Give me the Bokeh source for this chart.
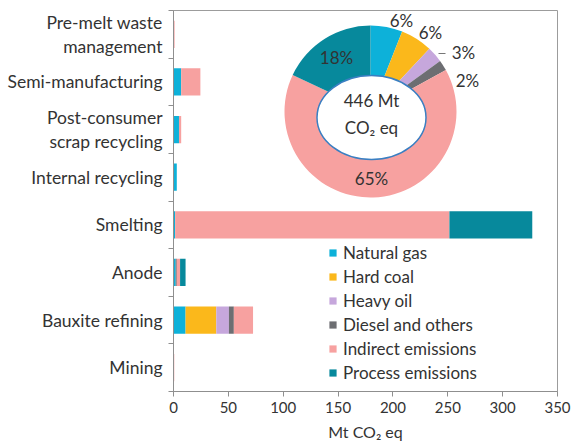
import math
from bokeh.plotting import figure
from bokeh.models import Range1d, FixedTicker, ColumnDataSource, Legend, LegendItem
from bokeh.embed import file_html
from bokeh.resources import INLINE
from bokeh.core.properties import value

# ---------------- data ----------------
categories = ["Pre-melt waste\nmanagement", "Semi-manufacturing", "Post-consumer\nscrap recycling",
              "Internal recycling", "Smelting", "Anode", "Bauxite refining", "Mining"]
natural_gas = [0, 7, 5, 3, 1.5, 2, 11, 0]
hard_coal = [0, 0, 0, 0, 0, 0, 28, 0]
heavy_oil = [0, 0, 0, 0, 0, 0, 11.5, 0]
diesel_others = [0, 0, 0, 0, 0, 1, 4.5, 0]
indirect_emissions = [1, 17.5, 2, 0, 250, 3, 17.5, 0.7]
process_emissions = [0, 0, 0, 0, 75.5, 5, 0, 0]

series_names = ["Natural gas", "Hard coal", "Heavy oil", "Diesel and others",
                "Indirect emissions", "Process emissions"]
pie_percent = [6, 6, 3, 2, 65, 18]
total_emissions = 446
x_ticks = [0, 50, 100, 150, 200, 250, 300, 350]

# ---------------- style ----------------
colors = ["#0db1d9", "#fbb81b", "#c6a7dc", "#6d6e72", "#f7a1a0", "#07899c"]
FONT = "Lato"
TXT = "#333333"
AX = "#8f8f8f"

n = len(categories)
ypos = [n - 0.5 - i for i in range(n)]
keys = ["ng", "coal", "oil", "diesel", "indirect", "process"]
src = ColumnDataSource(dict(y=ypos, ng=natural_gas, coal=hard_coal, oil=heavy_oil,
                            diesel=diesel_others, indirect=indirect_emissions,
                            process=process_emissions))

FW, FH = 384, 381
p = figure(frame_width=FW, frame_height=FH, x_range=Range1d(0, 350), y_range=Range1d(0, n),
           output_backend="svg", toolbar_location=None,
           min_border_left=173, min_border_right=15, min_border_top=10, min_border_bottom=54)
p.grid.visible = False
p.outline_line_color = "#9c9c9c"
p.outline_line_width = 1

rends = p.hbar_stack(keys, y="y", height=0.57, fill_color=colors, line_color=None, source=src)

# x axis
xa = p.xaxis[0]
xa.ticker = FixedTicker(ticks=x_ticks)
xa.axis_line_color = AX
xa.major_tick_line_color = AX
xa.major_tick_in = 0
xa.major_tick_out = 5
xa.minor_tick_line_color = None
xa.major_label_text_font = FONT
xa.major_label_text_font_size = "15px"
xa.major_label_text_color = TXT
xa.major_label_standoff = 5
xa.axis_label = "Mt CO\u2082 eq"
xa.axis_label_text_font = FONT
xa.axis_label_text_font_size = "16px"
xa.axis_label_text_font_style = "normal"
xa.axis_label_text_color = TXT
xa.axis_label_standoff = 6

# y axis
ya = p.yaxis[0]
ya.ticker = FixedTicker(ticks=ypos, minor_ticks=list(range(0, n + 1)))
ya.major_label_overrides = {y: c for y, c in zip(ypos, categories)}
ya.axis_line_color = AX
ya.major_tick_line_color = None
ya.major_tick_in = 0
ya.major_tick_out = 5
ya.minor_tick_line_color = AX
ya.minor_tick_in = 0
ya.minor_tick_out = 5
ya.major_label_text_font = FONT
ya.major_label_text_font_size = "17.5px"
ya.major_label_text_color = TXT
ya.major_label_text_line_height = 1.15
ya.major_label_standoff = 6

# legend
legend = Legend(items=[LegendItem(label=nm, renderers=[r]) for nm, r in zip(series_names, rends)],
                location=(155, 8), orientation="vertical",
                glyph_width=9, glyph_height=9, label_standoff=6, label_height=20, spacing=3,
                padding=0, margin=0, border_line_color=None, background_fill_alpha=0,
                label_text_font=FONT, label_text_font_size="17px", label_text_color=TXT)
p.add_layout(legend)

# donut (in frame-pixel coordinates)
p.extra_x_ranges = {"px": Range1d(0, FW)}
p.extra_y_ranges = {"px": Range1d(0, FH)}
cx, cy = 197, 280
r_out = 86
tot = sum(pie_percent)
starts, ends, acc = [], [], 0.0
for v in pie_percent:
    starts.append(math.pi / 2 - 2 * math.pi * acc / tot)
    acc += v
    ends.append(math.pi / 2 - 2 * math.pi * acc / tot)
dsrc = ColumnDataSource(dict(x=[cx] * len(pie_percent), y=[cy] * len(pie_percent),
                             s=starts, e=ends, c=colors))
p.wedge(x="x", y="y", radius=r_out, radius_units="screen",
        start_angle="s", end_angle="e", direction="clock",
        fill_color="c", line_color=None, source=dsrc,
        x_range_name="px", y_range_name="px")
p.ellipse(x=[198], y=[274], width=109, height=84, width_units="screen", height_units="screen",
          fill_color="white", line_color="#3a7fc2", line_width=1.5,
          x_range_name="px", y_range_name="px")

# percent labels (positions in frame pixels)
lab_x = [228, 257, 290, 294, 198, 163]
lab_y = [371, 359, 339, 311, 213, 334]
p.text(x=lab_x, y=lab_y, text=[f"{v}%" for v in pie_percent],
       text_align="center", text_baseline="middle", text_font=value(FONT),
       text_font_size="17px", text_color=TXT, x_range_name="px", y_range_name="px")
p.segment(x0=[265], y0=[338], x1=[272], y1=[338], line_color="#777777", line_width=1,
          x_range_name="px", y_range_name="px")
p.text(x=[198, 198], y=[291, 264], text=[f"{total_emissions} Mt", "CO\u2082 eq"],
       text_align="center", text_baseline="middle", text_font=value(FONT),
       text_font_size="17px", text_color=TXT, x_range_name="px", y_range_name="px")

open("out.html", "w").write(file_html(p, INLINE))
